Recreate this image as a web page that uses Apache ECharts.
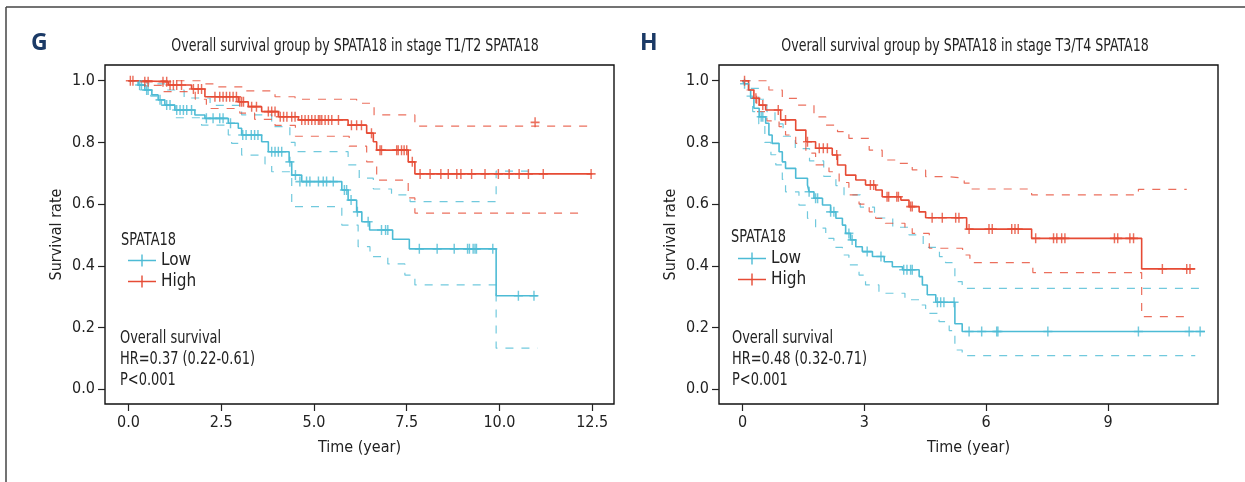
<!DOCTYPE html>
<html>
<head>
<meta charset="UTF-8">
<title>SPATA18 overall survival</title>
<script src="https://cdn.jsdelivr.net/npm/echarts@6.0.0/dist/echarts.min.js"></script>
<style>
	html, body { margin: 0; padding: 0; background: #fff; }
	#chart { width: 1245px; height: 482px; }
</style>
</head>
<body>
<div id="chart"></div>
<script type="text/javascript">
// each curve is a list of [time, survival]; the value holds until the next point
// panel G : stage T1/T2
var gHigh = [[0,1.0],[0.26,0.997],[1.07,0.986],[1.70,0.973],[2.06,0.948],[2.96,0.932],[3.23,0.916],[3.59,0.90],[4.04,0.883],[4.58,0.873],[5.92,0.856],[6.42,0.83],[6.60,0.802],[6.69,0.775],[7.54,0.737],[7.72,0.698],[12.5,0.698]];
var gHighUp = [[0,1.0],[1.97,0.99],[2.33,0.98],[3.14,0.967],[3.95,0.948],[4.49,0.94],[6.15,0.927],[6.62,0.889],[7.72,0.853],[12.57,0.853]];
var gHighLo = [[0.25,0.985],[0.9,0.965],[1.8,0.94],[2.1,0.91],[3.0,0.895],[3.4,0.875],[3.95,0.855],[4.5,0.82],[5.95,0.788],[6.42,0.737],[6.69,0.678],[7.54,0.62],[7.72,0.571],[12.3,0.571]];
var gHighCens = [[0.05,1.0],[0.12,1.0],[0.44,0.997],[0.53,0.997],[0.93,0.997],[1.03,0.997],[1.12,0.986],[1.21,0.986],[1.30,0.986],[1.43,0.986],
	[1.75,0.973],[1.88,0.973],[1.97,0.973],[2.33,0.948],[2.46,0.948],[2.55,0.948],[2.64,0.948],[2.73,0.948],[2.82,0.948],[2.91,0.948],
	[3.0,0.932],[3.05,0.932],[3.1,0.932],[3.32,0.916],[3.45,0.916],[3.77,0.90],[3.86,0.90],[3.95,0.90],
	[4.09,0.883],[4.18,0.883],[4.27,0.883],[4.40,0.883],[4.49,0.883],
	[4.67,0.873],[4.76,0.873],[4.85,0.873],[4.94,0.873],[5.03,0.873],[5.12,0.873],[5.16,0.873],[5.21,0.873],[5.30,0.873],[5.39,0.873],[5.48,0.873],[5.66,0.873],
	[6.01,0.856],[6.15,0.856],[6.28,0.856],[6.55,0.83],[6.78,0.775],[6.82,0.775],[7.23,0.775],[7.27,0.775],[7.36,0.775],[7.43,0.775],[7.50,0.775],[7.65,0.737],
	[7.86,0.698],[8.13,0.698],[8.42,0.698],[8.62,0.698],[8.85,0.698],[8.96,0.698],[9.25,0.698],[9.61,0.698],[9.97,0.698],[10.26,0.698],[10.53,0.698],[10.78,0.698],[11.18,0.698],[12.47,0.698],
	[10.96,0.865]];
var gLow = [[0,1.0],[0.26,0.986],[0.44,0.97],[0.63,0.954],[0.80,0.938],[0.98,0.921],[1.25,0.905],[1.79,0.889],[2.06,0.878],[2.69,0.862],[2.96,0.846],[3.05,0.824],[3.59,0.802],[3.77,0.77],[4.33,0.737],[4.40,0.694],[4.67,0.673],[5.75,0.646],[5.92,0.613],[6.15,0.575],[6.29,0.543],[6.50,0.516],[7.12,0.486],[7.57,0.455],[9.91,0.303],[11.03,0.303]];
var gLowUp = [[0,1.0],[0.5,0.99],[0.98,0.97],[1.5,0.944],[2.2,0.92],[3.05,0.889],[3.86,0.851],[4.35,0.80],[4.49,0.77],[5.92,0.727],[6.22,0.684],[6.6,0.649],[7.09,0.63],[7.59,0.608],[9.91,0.707],[10.93,0.707]];
var gLowLo = [[0.3,0.97],[0.6,0.95],[0.89,0.92],[1.25,0.88],[1.97,0.856],[2.69,0.824],[2.78,0.797],[3.05,0.759],[3.68,0.73],[3.86,0.705],[4.40,0.592],[5.75,0.532],[6.19,0.462],[6.51,0.43],[6.99,0.406],[7.45,0.37],[7.72,0.338],[9.91,0.133],[11.03,0.133]];
var gLowCens = [[0.30,0.986],[0.35,0.986],[0.49,0.97],[0.53,0.97],[0.85,0.938],[1.03,0.921],[1.12,0.921],
	[1.30,0.905],[1.39,0.905],[1.48,0.905],[1.57,0.905],[1.70,0.905],[2.10,0.878],[2.28,0.878],[2.46,0.878],[2.55,0.878],[2.75,0.862],
	[3.08,0.824],[3.17,0.824],[3.31,0.824],[3.40,0.824],[3.49,0.824],[3.86,0.77],[3.95,0.77],[4.04,0.77],[4.13,0.77],[4.35,0.737],[4.5,0.694],
	[4.62,0.673],[4.80,0.673],[4.89,0.673],[5.12,0.673],[5.25,0.673],[5.34,0.673],[5.52,0.673],[5.82,0.646],[5.88,0.646],[6.0,0.613],[6.17,0.575],[6.46,0.543],
	[6.82,0.516],[6.93,0.516],[6.99,0.516],[7.84,0.455],[8.32,0.455],[8.78,0.455],[9.14,0.455],[9.19,0.455],[9.29,0.455],[9.34,0.455],[9.38,0.455],[9.82,0.455],
	[10.51,0.303],[10.93,0.303]];

// panel H : stage T3/T4
var hHigh = [[0,1.0],[0.15,0.97],[0.28,0.943],[0.41,0.921],[0.57,0.905],[0.94,0.873],[1.31,0.84],[1.56,0.802],[1.80,0.781],[2.21,0.759],[2.34,0.727],[2.54,0.694],[2.79,0.678],[3.03,0.662],[3.28,0.646],[3.44,0.624],[3.90,0.613],[4.10,0.592],[4.35,0.575],[4.51,0.556],[5.52,0.519],[7.12,0.489],[9.83,0.39],[11.15,0.39]];
var hHighUp = [[0,1.0],[0.65,0.97],[0.98,0.943],[1.35,0.921],[1.76,0.883],[2.05,0.856],[2.34,0.835],[2.62,0.813],[3.12,0.775],[3.44,0.743],[3.77,0.732],[4.18,0.711],[4.51,0.689],[5.09,0.684],[5.46,0.668],[5.65,0.649],[7.12,0.63],[9.75,0.648],[10.94,0.648]];
var hHighLo = [[0.1,0.97],[0.35,0.9],[0.6,0.87],[0.90,0.851],[1.06,0.824],[1.31,0.797],[1.56,0.765],[1.80,0.727],[2.13,0.705],[2.38,0.67],[2.62,0.63],[2.87,0.60],[3.12,0.575],[3.28,0.554],[3.52,0.538],[4.0,0.522],[4.18,0.505],[4.6,0.457],[5.42,0.435],[5.6,0.41],[7.15,0.378],[9.83,0.235],[11.06,0.235]];
var hHighCens = [[0.05,1.0],[0.33,0.943],[0.5,0.921],[0.88,0.905],[1.06,0.873],[1.6,0.802],[1.89,0.781],[1.99,0.781],[2.09,0.781],[2.32,0.759],
	[3.15,0.662],[3.23,0.662],[3.56,0.624],[3.60,0.624],[3.80,0.624],[3.84,0.624],[4.14,0.592],[4.18,0.592],
	[4.67,0.556],[4.92,0.556],[5.25,0.556],[5.33,0.556],[5.58,0.519],[6.07,0.519],[6.15,0.519],[6.63,0.519],[6.71,0.519],[6.79,0.519],
	[7.22,0.489],[7.66,0.489],[7.74,0.489],[7.86,0.489],[7.94,0.489],[9.16,0.489],[9.24,0.489],[9.54,0.489],[9.63,0.489],
	[10.34,0.39],[10.94,0.39],[11.02,0.39]];
var hLow = [[0,1.0],[0.04,0.99],[0.15,0.97],[0.2,0.943],[0.28,0.911],[0.41,0.883],[0.57,0.862],[0.65,0.824],[0.73,0.797],[0.90,0.77],[0.98,0.737],[1.06,0.716],[1.31,0.684],[1.60,0.662],[1.64,0.640],[1.76,0.619],[1.97,0.597],[2.17,0.575],[2.30,0.554],[2.46,0.532],[2.54,0.505],[2.66,0.484],[2.79,0.462],[2.95,0.446],[3.20,0.43],[3.49,0.413],[3.69,0.397],[3.94,0.387],[4.35,0.365],[4.43,0.338],[4.55,0.306],[4.76,0.282],[5.23,0.212],[5.41,0.187],[11.39,0.187]];
var hLowUp = [[0,1.0],[0.2,0.975],[0.4,0.94],[0.6,0.9],[0.8,0.86],[1.0,0.82],[1.3,0.78],[1.65,0.74],[2.0,0.69],[2.3,0.66],[2.5,0.63],[2.9,0.59],[3.25,0.555],[3.7,0.525],[4.1,0.5],[4.45,0.46],[4.85,0.43],[5.0,0.41],[5.23,0.349],[5.41,0.327],[11.27,0.327]];
var hLowLo = [[0.1,0.95],[0.25,0.9],[0.4,0.86],[0.55,0.8],[0.7,0.76],[0.82,0.727],[0.98,0.68],[1.06,0.64],[1.39,0.597],[1.6,0.554],[1.8,0.522],[2.05,0.489],[2.25,0.46],[2.46,0.435],[2.62,0.403],[2.87,0.37],[3.03,0.338],[3.36,0.311],[4.0,0.29],[4.35,0.273],[4.51,0.246],[4.84,0.219],[5.09,0.19],[5.23,0.127],[5.41,0.109],[11.15,0.109]];
var hLowCens = [[0.05,0.99],[0.46,0.883],[0.50,0.883],[1.64,0.640],[1.8,0.619],[1.85,0.619],[2.17,0.575],[2.25,0.575],[2.62,0.505],[2.70,0.484],
	[3.07,0.446],[3.41,0.43],[3.97,0.387],[4.05,0.387],[4.14,0.387],[4.18,0.387],[4.80,0.282],[4.88,0.282],[4.96,0.282],[5.21,0.282],
	[5.58,0.187],[5.89,0.187],[6.26,0.187],[6.29,0.187],[7.52,0.187],[9.75,0.187],[11.0,0.187],[11.27,0.187]];

// ticks
var yTicks = [0, 0.2, 0.4, 0.6, 0.8, 1.0];
var gTicks = [0, 2.5, 5, 7.5, 10, 12.5];
var hTicks = [0, 3, 6, 9];

var LOW = '#4dbbd5';
var HIGH = '#e64b35';
var FONT = '"Liberation Sans Narrow", "DejaVu Sans Condensed", "Arial Narrow", sans-serif';
var PLUS = 'path://M4.2,0 H5.8 V10 H4.2 Z M0,4.2 H10 V5.8 H0 Z';
var SQUEEZE = 0.8;  // the original uses a condensed face

function curve(name, data, color, gi) {
	return {
		name: name, type: 'line', step: 'end', data: data,
		xAxisIndex: gi, yAxisIndex: gi, showSymbol: false, silent: true,
		lineStyle: { color: color, width: 1.6 }, itemStyle: { color: color }, z: 3
	};
}
function band(name, data, color, gi) {
	return {
		name: name, type: 'line', step: 'end', data: data,
		xAxisIndex: gi, yAxisIndex: gi, showSymbol: false, silent: true,
		lineStyle: { color: color, width: 1.2, type: [8, 8], opacity: 0.8 }, z: 2
	};
}
function marks(name, data, color, gi) {
	return {
		name: name, type: 'scatter', data: data,
		xAxisIndex: gi, yAxisIndex: gi, symbol: PLUS, symbolSize: [9, 10],
		itemStyle: { color: color }, silent: true, z: 4
	};
}

function xAxis(gi, min, max, ticks, digits) {
	return {
		type: 'value', gridIndex: gi, min: min, max: max,
		name: 'Time (year)', nameLocation: 'middle', nameGap: 36,
		nameTextStyle: { fontSize: 16, fontFamily: FONT, color: '#222' },
		splitLine: { show: false }, axisLine: { show: false, onZero: false },
		axisTick: { show: true, length: 7, customValues: ticks, lineStyle: { color: '#222', width: 1.2 } },
		axisLabel: { customValues: ticks, margin: 11, fontSize: 16, fontFamily: FONT, color: '#222',
			formatter: function(v) { return v.toFixed(digits); } }
	};
}
function yAxis(gi) {
	return {
		type: 'value', gridIndex: gi, min: -0.048, max: 1.051,
		name: 'Survival rate', nameLocation: 'middle', nameGap: 40,
		nameTextStyle: { fontSize: 16, fontFamily: FONT, color: '#222' },
		splitLine: { show: false }, axisLine: { show: false, onZero: false },
		axisTick: { show: true, length: 7, customValues: yTicks, lineStyle: { color: '#222', width: 1.2 } },
		axisLabel: { customValues: yTicks, margin: 10, fontSize: 16, fontFamily: FONT, color: '#222',
			formatter: function(v) { return v.toFixed(1); } }
	};
}
function legend(left, top) {
	return {
		data: ['Low', 'High'], orient: 'vertical', left: left, top: top,
		icon: 'path://M0,5.3 H28 V6.7 H0 Z M13.3,0 H14.7 V12 H13.3 Z',
		itemWidth: 28, itemHeight: 12, itemGap: 4,
		textStyle: { fontSize: 17, fontFamily: FONT, color: '#222' },
		selectedMode: false
	};
}
function label(x, y, text, size, extra, squeeze) {
	var st = { text: text, fontSize: size, fontFamily: FONT, fill: '#222',
		align: 'left', verticalAlign: 'middle', textAlign: 'left', textVerticalAlign: 'middle' };
	for(var k in extra) { st[k] = extra[k]; }
	return { type: 'text', x: x, y: y, scaleX: squeeze || SQUEEZE, style: st, z: 10 };
}

var myChart = echarts.init(document.getElementById('chart'));
var option = {
	animation: false,
	backgroundColor: '#fff',
	grid: [
		{ left: 105, top: 65, width: 509, height: 339, show: true, borderColor: '#111', borderWidth: 1.4, backgroundColor: 'transparent' },
		{ left: 719, top: 65, width: 499, height: 339, show: true, borderColor: '#111', borderWidth: 1.4, backgroundColor: 'transparent' }
	],
	xAxis: [xAxis(0, -0.633, 13.087, gTicks, 1), xAxis(1, -0.579, 11.71, hTicks, 0)],
	yAxis: [yAxis(0), yAxis(1)],
	legend: [legend(123, 247), legend(733, 245)],
	series: [
		band('gLowCI', gLowUp, LOW, 0), band('gLowCI', gLowLo, LOW, 0),
		band('gHighCI', gHighUp, HIGH, 0), band('gHighCI', gHighLo, HIGH, 0),
		curve('Low', gLow, LOW, 0), curve('High', gHigh, HIGH, 0),
		marks('Low', gLowCens, LOW, 0), marks('High', gHighCens, HIGH, 0),
		band('hLowCI', hLowUp, LOW, 1), band('hLowCI', hLowLo, LOW, 1),
		band('hHighCI', hHighUp, HIGH, 1), band('hHighCI', hHighLo, HIGH, 1),
		curve('Low', hLow, LOW, 1), curve('High', hHigh, HIGH, 1),
		marks('Low', hLowCens, LOW, 1), marks('High', hHighCens, HIGH, 1)
	],
	graphic: [
		// outer frame of the figure
		{ type: 'line', shape: { x1: 6, y1: 7, x2: 1245, y2: 7 }, style: { stroke: '#444', lineWidth: 1.5 } },
		{ type: 'line', shape: { x1: 6, y1: 7, x2: 6, y2: 482 }, style: { stroke: '#444', lineWidth: 1.5 } },
		label(31, 43, 'G', 23, { fontWeight: 'bold', fill: '#1b3a66', fontFamily: '"Open Sans", "DejaVu Sans", sans-serif' }, 1),
		label(640, 43, 'H', 23, { fontWeight: 'bold', fill: '#1b3a66', fontFamily: '"Open Sans", "DejaVu Sans", sans-serif' }, 1),
		label(355, 46, 'Overall survival group by SPATA18 in stage T1/T2 SPATA18', 17.5, { align: 'center', textAlign: 'center' }),
		label(965, 46, 'Overall survival group by SPATA18 in stage T3/T4 SPATA18', 17.5, { align: 'center', textAlign: 'center' }),
		label(121, 240, 'SPATA18', 18),
		label(731, 237, 'SPATA18', 18),
		label(120, 338, 'Overall survival', 18),
		label(120, 359, 'HR=0.37 (0.22-0.61)', 18),
		label(120, 380, 'P<0.001', 18),
		label(732, 338, 'Overall survival', 18),
		label(732, 359, 'HR=0.48 (0.32-0.71)', 18),
		label(732, 380, 'P<0.001', 18)
	]
};
myChart.setOption(option);
</script>
</body>
</html>
